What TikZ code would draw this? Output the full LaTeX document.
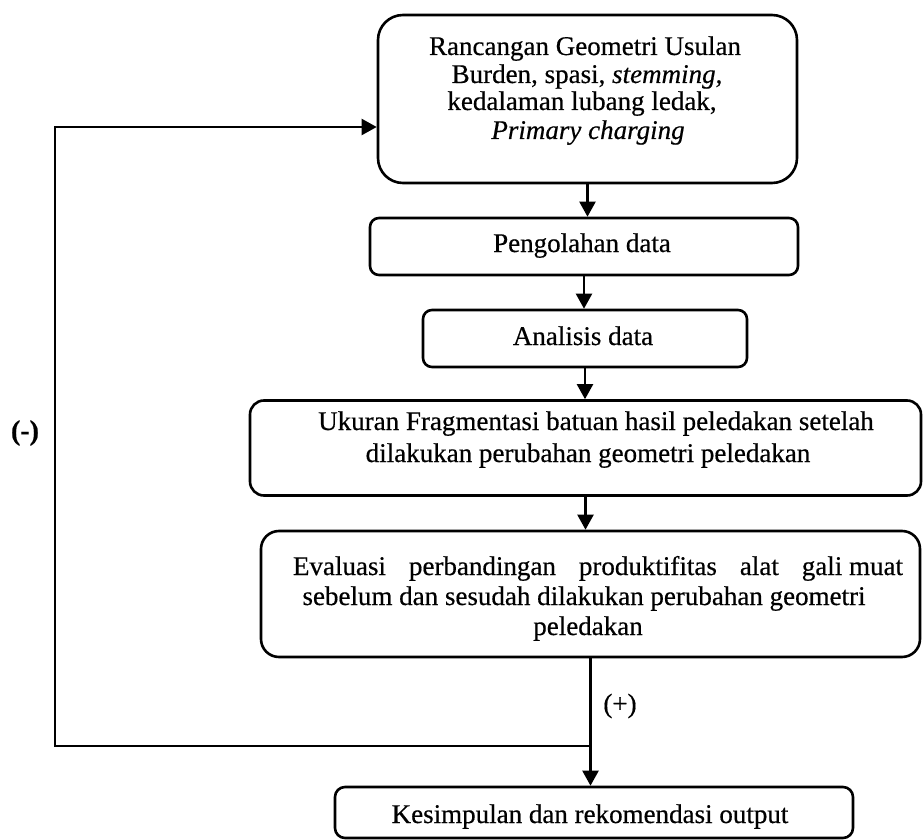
\documentclass[tikz,border=0pt]{standalone}
\usepackage{fontspec}
\setmainfont{Liberation Serif}[FakeBold=0.5]
\usetikzlibrary{arrows.meta}
\begin{document}
\begin{tikzpicture}[x=1pt,y=-1pt,
  box/.style={draw, line width=2.6pt, rounded corners=#1, inner sep=0pt},
  box/.default=9pt,
  txt/.style={font=\fontsize{27}{30}\selectfont, inner sep=0pt, anchor=base},
  arr/.style={line width=2.2pt, -{Triangle[length=15pt,width=16pt]}},
  ln/.style={line width=2.2pt}]
\useasboundingbox (0,0) rectangle (924,840);
% boxes
\node[box=25pt, minimum width=419pt, minimum height=168pt] (top) at (587.5,99) {};
\node[box=9pt, minimum width=428pt, minimum height=57pt] (peng) at (584,246.5) {};
\node[box=9pt, minimum width=324pt, minimum height=57pt] (anal) at (585,338.5) {};
\node[box=14pt, minimum width=671pt, minimum height=95pt] (ukur) at (585.5,448) {};
\node[box=18pt, minimum width=659pt, minimum height=126pt] (eval) at (590.5,594) {};
\node[box=10pt, minimum width=518pt, minimum height=51pt] (kes) at (594,812.5) {};
% texts
\node[txt] (t1) at (585,55) {Rancangan Geometri Usulan};
\node[txt] (t2) at (587,83) {Burden, spasi, \textit{stemming,}};
\node[txt] (t3) at (582,110) {kedalaman lubang ledak,};
\node[txt] (t4) at (588,139) {\textit{Primary charging}};
\node[txt] (tp) at (582,252) {Pengolahan data};
\node[txt] (ta) at (583,345) {Analisis data};
\node[txt] (tu1) at (596,430) {Ukuran Fragmentasi batuan hasil peledakan setelah};
\node[txt] (tu2) at (588,462) {dilakukan perubahan geometri peledakan};
\node[txt] (te1) at (598,575) {\hbox to 610pt{Evaluasi\hfill perbandingan\hfill produktifitas\hfill alat\hfill gali muat}};
\node[txt] (te2) at (584,605) {sebelum dan sesudah dilakukan perubahan geometri};
\node[txt] (te3) at (588,635) {peledakan};
\node[txt] (tk) at (590,823) {Kesimpulan dan rekomendasi output};
\node[font=\fontsize{28}{30}\selectfont\bfseries, inner sep=0pt] (minus) at (25,433) {(-)};
\node[font=\fontsize{27}{30}\selectfont, inner sep=0pt] (plus) at (620,706) {(+)};
% connectors
\draw[arr] (top.south) -- (top.south |- peng.north);
\draw[arr] (peng.south) -- (peng.south |- anal.north);
\draw[arr] (anal.south) -- (anal.south |- ukur.north);
\draw[arr] (ukur.south) -- (ukur.south |- eval.north);
\draw[arr] (eval.south) -- (eval.south |- kes.north);
\coordinate (jy) at (0,746);
\coordinate (j) at (eval.south |- jy);
\coordinate (c1) at (55,746);
\coordinate (c2) at (55,127);
\draw[arr] (j) -- (c1) -- (c2) -- (c2 -| top.west);
\end{tikzpicture}
\end{document}
